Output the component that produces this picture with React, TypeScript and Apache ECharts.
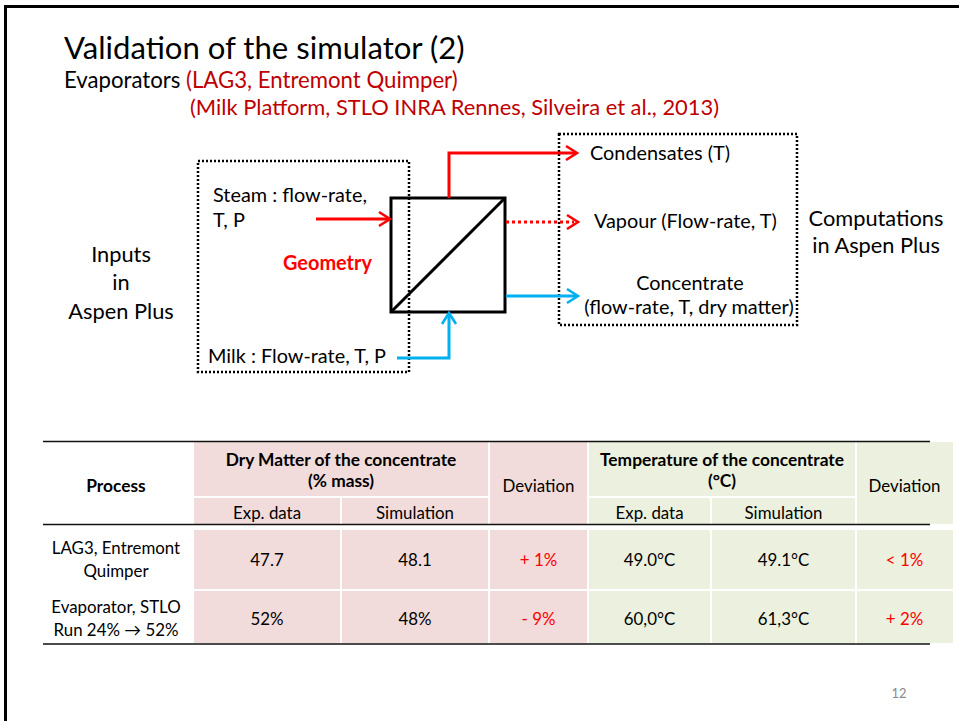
import React, { useEffect, useRef } from "react";
import * as echarts from "echarts";

// ---- Slide texts / table data ----
const titleText = "Validation of the simulator (2)";
const subtitleBlack = "Evaporators ";
const subtitleRed = "(LAG3, Entremont Quimper)";
const subtitleRed2 = "(Milk Platform, STLO INRA Rennes, Silveira et al., 2013)";

const inputsLabel = ["Inputs", "in", "Aspen Plus"];
const computationsLabel = ["Computations", "in Aspen Plus"];
const steamLabel = ["Steam : flow-rate,", "T, P"];
const geometryLabel = "Geometry";
const milkLabel = "Milk : Flow-rate, T, P";
const condensatesLabel = "Condensates (T)";
const vapourLabel = "Vapour (Flow-rate, T)";
const concentrateLabel = ["Concentrate", "(flow-rate, T, dry matter)"];

const headerProcess = "Process";
const headerDry = ["Dry Matter of the concentrate", "(% mass)"];
const headerTemp = ["Temperature of the concentrate", "(°C)"];
const headerDeviation = "Deviation";
const subHeaders = ["Exp. data", "Simulation"];

const processNames = [
  ["LAG3, Entremont", "Quimper"],
  ["Evaporator, STLO", "Run 24% \u2192 52%"],
];
const dryExp = ["47.7", "52%"];
const drySim = ["48.1", "48%"];
const dryDev = ["+ 1%", "- 9%"];
const tempExp = ["49.0°C", "60,0°C"];
const tempSim = ["49.1°C", "61,3°C"];
const tempDev = ["< 1%", "+ 2%"];
const pageNumber = "12";

const FONT = "Lato";
const RED = "#ff0000";
const DARKRED = "#c00000";
const BLUE = "#00b0f0";
const PINK = "#f2dcdb";
const GREEN = "#ebf1de";

let ctx: CanvasRenderingContext2D | null = null;
function measure(text: string, weight: string) {
  if (!ctx) ctx = document.createElement("canvas").getContext("2d");
  ctx!.font = `${weight} 100px ${FONT}`;
  return ctx!.measureText(text).width;
}
function fit(text: string, target: number, weight = "normal") {
  return (100 * target) / measure(text, weight);
}

function txt(
  text: string,
  x: number,
  y: number,
  size: number,
  opts: { fill?: string; weight?: string; align?: string } = {}
) {
  const align = opts.align || "left";
  return {
    type: "text",
    x,
    y,
    silent: true,
    style: {
      text,
      fill: opts.fill || "#000",
      font: `${opts.weight || "normal"} ${size}px ${FONT}`,
      lineHeight: Math.round(size),
      align,
      verticalAlign: "middle",
      textAlign: align,
      textVerticalAlign: "middle",
    },
  };
}

function line(x1: number, y1: number, x2: number, y2: number, stroke: string, lw: number, dash?: number[]) {
  return {
    type: "line",
    silent: true,
    shape: { x1, y1, x2, y2 },
    style: { stroke, lineWidth: lw, lineDash: dash, fill: null },
  };
}

function poly(points: number[][], stroke: string, lw: number) {
  return {
    type: "polyline",
    silent: true,
    shape: { points },
    style: { stroke, lineWidth: lw, fill: null, lineJoin: "miter" },
  };
}

// chevron arrow head, dir: 'right' | 'up'
function head(tx: number, ty: number, dir: string, stroke: string) {
  const L = 11;
  const W = 7;
  const pts =
    dir === "right"
      ? [
          [tx - L, ty - W],
          [tx, ty],
          [tx - L, ty + W],
        ]
      : [
          [tx - W, ty + L],
          [tx, ty],
          [tx + W, ty + L],
        ];
  return poly(pts, stroke, 2.6);
}

function rect(x: number, y: number, w: number, h: number, fill: string) {
  return { type: "rect", silent: true, shape: { x, y, width: w, height: h }, style: { fill } };
}

export default function App() {
  const ref = useRef<HTMLDivElement>(null);

  useEffect(() => {
    if (!ref.current) return;
    const chart = echarts.init(ref.current, null, { renderer: "svg" });

    const sTitle = fit(titleText, 402);
    const sSub = fit(subtitleBlack + subtitleRed, 394);
    const sSub2 = fit(subtitleRed2, 530);
    const sDiag = fit(steamLabel[0], 154);
    const sGeom = fit(geometryLabel, 89, "bold");
    const sBig = fit(computationsLabel[0], 135);
    const sTab = fit(subHeaders[1], 78);
    const sTabB = fit(headerDry[0], 232, "bold");
    const sPage = fit(pageNumber, 15);

    const g: any[] = [];

    // slide frame
    g.push(line(4, 6.5, 959, 6.5, "#000", 3));
    g.push(line(5.5, 5, 5.5, 721, "#000", 3));

    // title block
    g.push(txt(titleText, 64, 47, sTitle));
    g.push(txt(subtitleBlack, 64, 79, sSub));
    g.push(txt(subtitleRed, 186, 79, sSub, { fill: DARKRED }));
    g.push(txt(subtitleRed2, 190, 106, sSub2, { fill: DARKRED }));

    // dotted boxes
    g.push({
      type: "rect",
      silent: true,
      shape: { x: 198, y: 161, width: 211, height: 211 },
      style: { fill: null, stroke: "#000", lineWidth: 2.5, lineDash: [2, 2] },
    });
    g.push({
      type: "rect",
      silent: true,
      shape: { x: 559, y: 134, width: 238, height: 191 },
      style: { fill: null, stroke: "#000", lineWidth: 2.5, lineDash: [2, 2] },
    });

    // evaporator square
    g.push({
      type: "rect",
      silent: true,
      shape: { x: 391, y: 198, width: 114, height: 114 },
      style: { fill: null, stroke: "#000", lineWidth: 3 },
    });
    g.push(line(391, 312, 505, 198, "#000", 3));

    // steam arrow
    g.push(line(316, 219, 389, 219, RED, 3));
    g.push(head(390, 219, "right", RED));
    // condensates
    g.push(poly([[449, 198], [449, 153], [575, 153]], RED, 3));
    g.push(head(577, 153, "right", RED));
    // vapour dotted
    g.push(line(506, 222, 574, 222, RED, 3, [3, 3]));
    g.push(head(578, 222, "right", RED));
    // concentrate
    g.push(line(506, 296, 576, 296, BLUE, 3));
    g.push(head(578, 296, "right", BLUE));
    // milk
    g.push(poly([[397, 358], [449, 358], [449, 315]], BLUE, 3));
    g.push(head(449, 313, "up", BLUE));

    // diagram texts
    g.push(txt(steamLabel[0], 213, 194, sDiag));
    g.push(txt(steamLabel[1], 213, 219, sDiag));
    g.push(txt(geometryLabel, 283, 262, sGeom, { fill: RED, weight: "bold" }));
    g.push(txt(milkLabel, 208, 355, sDiag));
    g.push(txt(condensatesLabel, 590, 152, sDiag));
    g.push(txt(vapourLabel, 594, 220, sDiag));
    g.push(txt(concentrateLabel[0], 690, 282, sDiag, { align: "center" }));
    g.push(txt(concentrateLabel[1], 689, 306, sDiag, { align: "center" }));
    inputsLabel.forEach((t, i) => g.push(txt(t, 121, 253 + i * 28.5, sBig, { align: "center" })));
    computationsLabel.forEach((t, i) => g.push(txt(t, 876, 217 + i * 27, sBig, { align: "center" })));

    // ---- table ----
    const colX = [45, 193, 341, 489, 588, 711, 856, 953];
    const hTop = 442;
    const hMid = 497;
    const hBot = 524;
    const rows = [
      [530, 590],
      [591, 644],
    ];
    const gap = 1;
    // header cells
    g.push(rect(colX[1] + gap, hTop, colX[3] - colX[1] - 2 * gap, hMid - hTop - gap, PINK));
    g.push(rect(colX[1] + gap, hMid + gap, colX[2] - colX[1] - 2 * gap, hBot - hMid - gap, PINK));
    g.push(rect(colX[2] + gap, hMid + gap, colX[3] - colX[2] - 2 * gap, hBot - hMid - gap, PINK));
    g.push(rect(colX[3] + gap, hTop, colX[4] - colX[3] - 2 * gap, hBot - hTop, PINK));
    g.push(rect(colX[4] + gap, hTop, colX[6] - colX[4] - 2 * gap, hMid - hTop - gap, GREEN));
    g.push(rect(colX[4] + gap, hMid + gap, colX[5] - colX[4] - 2 * gap, hBot - hMid - gap, GREEN));
    g.push(rect(colX[5] + gap, hMid + gap, colX[6] - colX[5] - 2 * gap, hBot - hMid - gap, GREEN));
    g.push(rect(colX[6] + gap, hTop, colX[7] - colX[6] - gap, hBot - hTop, GREEN));
    // body cells
    rows.forEach(([y0, y1]) => {
      for (let c = 1; c < 7; c++) {
        const w = c === 6 ? colX[7] - colX[6] - gap : colX[c + 1] - colX[c] - 2 * gap;
        g.push(rect(colX[c] + gap, y0, w, y1 - y0 - gap, c < 4 ? PINK : GREEN));
      }
    });
    // rules
    g.push(line(43, 441.5, 930, 441.5, "#111", 1.5));
    g.push(line(43, 524.5, 930, 524.5, "#111", 1.5));
    g.push(line(43, 644, 930, 644, "#111", 1.5));

    const cx = (a: number, b: number) => (colX[a] + colX[b]) / 2;
    // header texts
    g.push(txt(headerProcess, 116, 485, sTabB, { weight: "bold", align: "center" }));
    g.push(txt(headerDry[0], cx(1, 3), 459, sTabB, { weight: "bold", align: "center" }));
    g.push(txt(headerDry[1], cx(1, 3), 480, sTabB, { weight: "bold", align: "center" }));
    g.push(txt(headerDeviation, cx(3, 4), 485, sTab, { align: "center" }));
    g.push(txt(headerTemp[0], cx(4, 6), 459, sTabB, { weight: "bold", align: "center" }));
    g.push(txt(headerTemp[1], cx(4, 6), 480, sTabB, { weight: "bold", align: "center" }));
    g.push(txt(headerDeviation, cx(6, 7), 485, sTab, { align: "center" }));
    g.push(txt(subHeaders[0], cx(1, 2), 512, sTab, { align: "center" }));
    g.push(txt(subHeaders[1], cx(2, 3), 512, sTab, { align: "center" }));
    g.push(txt(subHeaders[0], cx(4, 5), 512, sTab, { align: "center" }));
    g.push(txt(subHeaders[1], cx(5, 6), 512, sTab, { align: "center" }));

    const rowCenters = [559, 618];
    rowCenters.forEach((yc, r) => {
      g.push(txt(processNames[r][0], 116, yc - 11.5, sTab, { align: "center" }));
      g.push(txt(processNames[r][1], 116, yc + 11.5, sTab, { align: "center" }));
      g.push(txt(dryExp[r], cx(1, 2), yc, sTab, { align: "center" }));
      g.push(txt(drySim[r], cx(2, 3), yc, sTab, { align: "center" }));
      g.push(txt(dryDev[r], cx(3, 4), yc, sTab, { align: "center", fill: RED }));
      g.push(txt(tempExp[r], cx(4, 5), yc, sTab, { align: "center" }));
      g.push(txt(tempSim[r], cx(5, 6), yc, sTab, { align: "center" }));
      g.push(txt(tempDev[r], cx(6, 7), yc, sTab, { align: "center", fill: RED }));
    });

    g.push(txt(pageNumber, 899, 693, sPage, { align: "center", fill: "#8a8a8a" }));

    chart.setOption({
      animation: false,
      backgroundColor: "#ffffff",
      graphic: { elements: g },
    });

    return () => chart.dispose();
  }, []);

  return (
    <div
      ref={ref}
      style={{ position: "absolute", left: 0, top: 0, width: 959, height: 721 }}
    />
  );
}
